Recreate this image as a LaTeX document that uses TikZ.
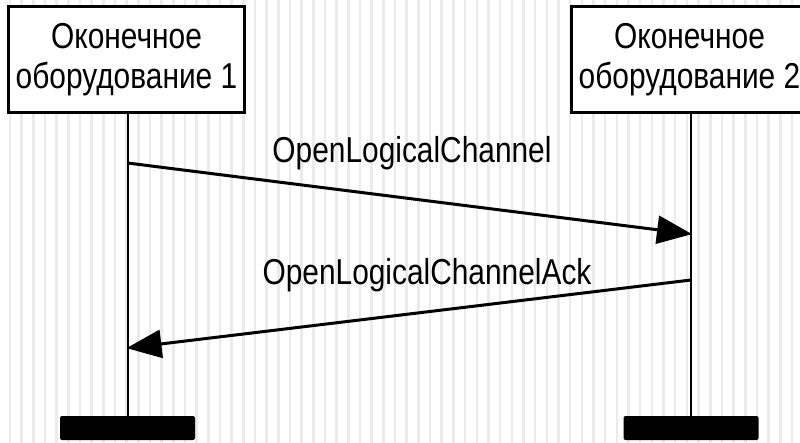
\documentclass[tikz,border=0pt]{standalone}
\usepackage{fontspec}
\setmainfont[FakeStretch=0.83]{Liberation Sans}
\usetikzlibrary{arrows.meta}
\tikzset{
  x=1pt, y=-1pt,
  lbl/.style={font=\fontsize{36}{40}\selectfont, inner sep=0pt},
  actor/.style={draw=black, line width=3pt, fill=white, minimum width=236pt,
    minimum height=106pt, align=center, inner sep=0pt,
    font=\fontsize{36}{40}\selectfont},
  lifeline/.style={line width=2pt},
  msg/.style={line width=3pt, -{Triangle[length=35pt,width=28pt]}, shorten >=-1pt},
  endbar/.style={fill=black, rounded corners=2pt, minimum width=135pt,
    minimum height=24pt, inner sep=0pt},
  stripe/.style={line width=2.6pt, draw=black!8}
}
\begin{document}
\begin{tikzpicture}
\useasboundingbox (0,0) rectangle (800,443);
\clip (0,0) rectangle (800,443);
\fill[white] (0,0) rectangle (800,443);
% faint vertical ruling of the backdrop
\foreach \i in {0,...,68}
  \draw[stripe] ({10+11.67*\i},0) -- ({10+11.67*\i},443);

% participants
\node[actor] (eq1) at (126.5,60) {Оконечное\\оборудование 1};
\node[actor] (eq2) at (689.5,60) {Оконечное\\оборудование 2};

% end-of-life bars
\node[endbar] (end1) at (127.5,428) {};
\node[endbar] (end2) at (691,428) {};

% lifelines
\draw[lifeline] (eq1.south -| end1.north) -- (end1.north);
\draw[lifeline] (eq2.south -| end2.north) -- (end2.north);

% message anchor points on the lifelines
\coordinate (m1s) at (127.5,163);
\coordinate (m1e) at (691,234);
\coordinate (m2s) at (691,280);
\coordinate (m2e) at (127.5,348);

\draw[msg] (m1s) -- (m1e);
\draw[msg] (m2s) -- (m2e);

\node[lbl, anchor=base] (l1) at (412,163) {OpenLogicalChannel};
\node[lbl, anchor=base] (l2) at (427,285) {OpenLogicalChannelAck};
\end{tikzpicture}
\end{document}
